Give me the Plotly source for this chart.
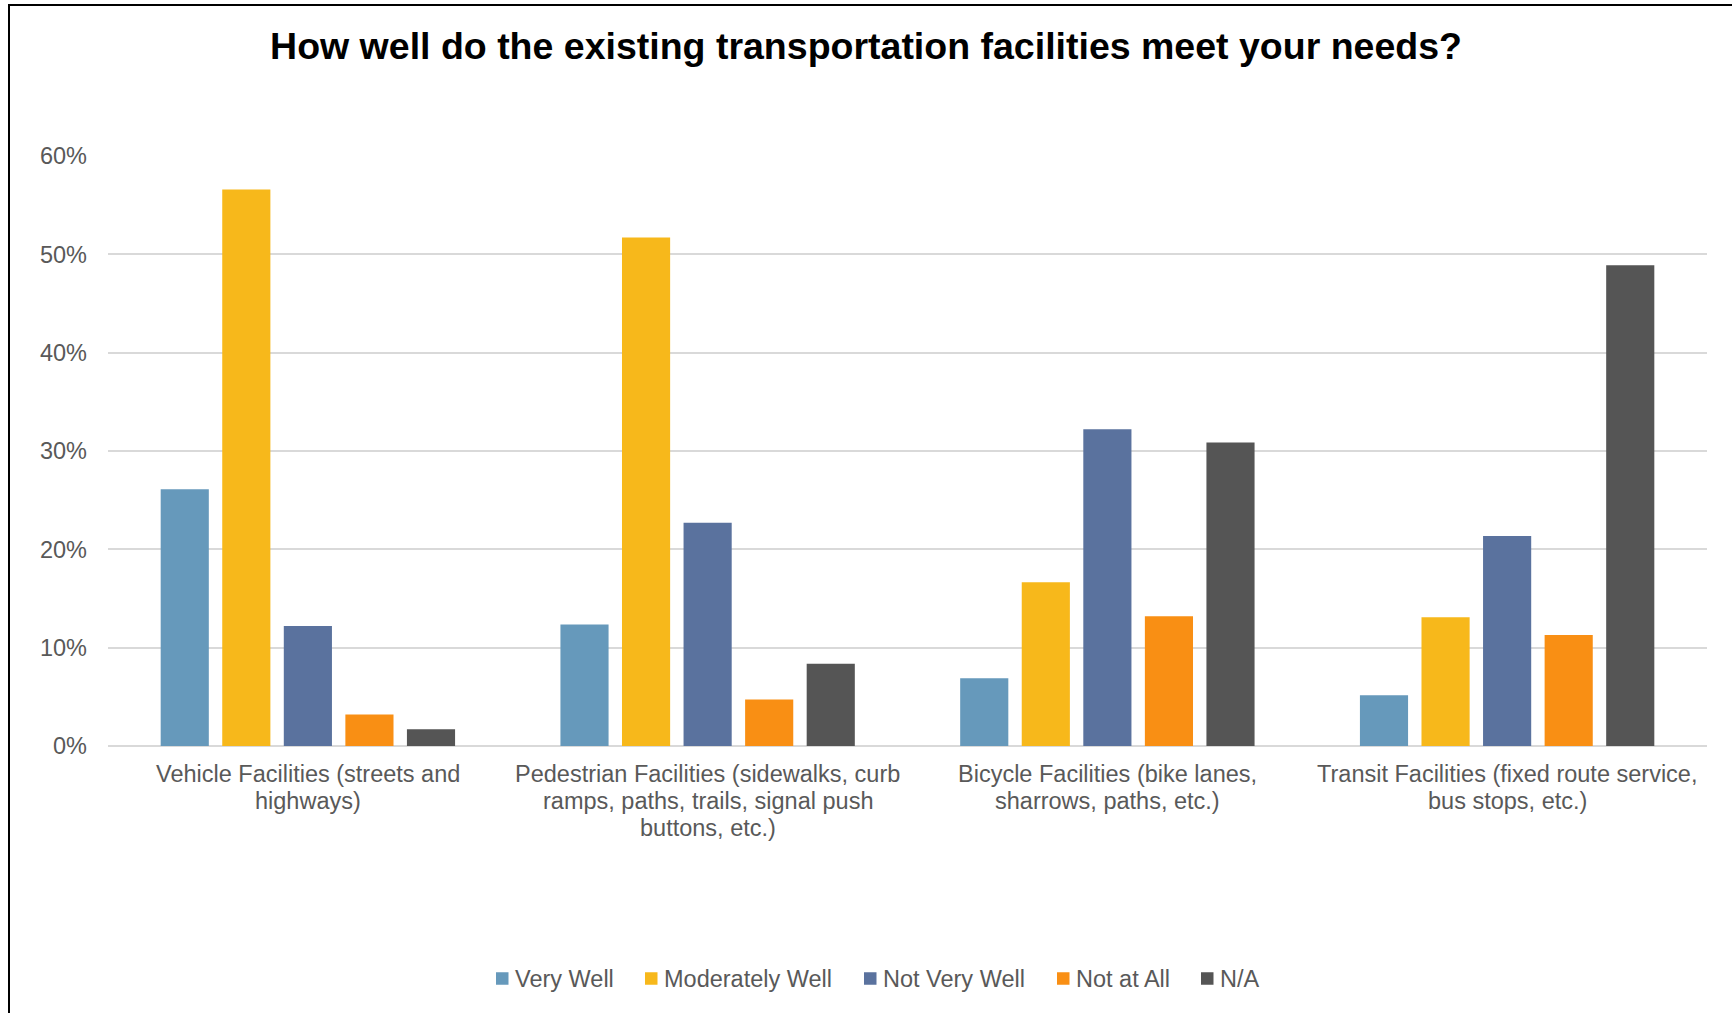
import plotly.graph_objects as go

# Survey categories (x axis), their wrapped label lines, and response shares per rating
categories = [
    "Vehicle Facilities",
    "Pedestrian Facilities",
    "Bicycle Facilities",
    "Transit Facilities",
]
category_labels = [
    ["Vehicle Facilities (streets and", "highways)"],
    ["Pedestrian Facilities (sidewalks, curb", "ramps, paths, trails, signal push", "buttons, etc.)"],
    ["Bicycle Facilities (bike lanes,", "sharrows, paths, etc.)"],
    ["Transit Facilities (fixed route service,", "bus stops, etc.)"],
]
series_names = ["Very Well", "Moderately Well", "Not Very Well", "Not at All", "N/A"]
very_well = [0.261, 0.1235, 0.069, 0.0515]
moderately_well = [0.566, 0.517, 0.1665, 0.131]
not_very_well = [0.122, 0.227, 0.322, 0.2135]
not_at_all = [0.032, 0.0474, 0.132, 0.113]
not_applicable = [0.017, 0.0837, 0.3086, 0.489]
y_ticks = [0, 0.1, 0.2, 0.3, 0.4, 0.5, 0.6]

series_values = [very_well, moderately_well, not_very_well, not_at_all, not_applicable]
colors = ["#6699BB", "#F7B81B", "#5A729E", "#F98F14", "#555555"]

W, H = 1732, 1013
L, R, T, B = 108, 25, 156, 267
FONT = "Liberation Sans, Arial, sans-serif"
GREY = "#595959"
FS = 23.5

fig = go.Figure()
for name, vals, col in zip(series_names, series_values, colors):
    fig.add_trace(go.Bar(
        x=categories, y=vals, name=name,
        marker=dict(color=col, line=dict(width=0)),
        hoverinfo="y+name", showlegend=False,
    ))

# Helpers: pixel position -> paper coordinates of the plot area
pw, ph = W - L - R, H - T - B
def px_x(v):
    return (v - L) / pw
def px_y(v):
    return (H - B - v) / ph

# Outer chart frame
fig.add_shape(type="rect", xref="paper", yref="paper",
              x0=px_x(9), x1=px_x(W + 20), y0=px_y(H + 20), y1=px_y(5),
              line=dict(color="black", width=2), fillcolor="rgba(0,0,0,0)",
              layer="above")

# Wrapped category labels under each group
line_step = 27
for cat, lines in zip(categories, category_labels):
    for i, line in enumerate(lines):
        fig.add_annotation(
            x=cat, xref="x", y=px_y(774 + i * line_step), yref="paper",
            text=line, showarrow=False, xanchor="center", yanchor="middle",
            font=dict(family=FONT, size=FS, color=GREY),
        )

# Legend row: square swatch followed by the series name
legend_left = [496, 645, 864, 1057, 1201]
legend_y = 978.5
sw = 12.5
for name, col, x0 in zip(series_names, colors, legend_left):
    fig.add_shape(type="rect", xref="paper", yref="paper",
                  x0=px_x(x0), x1=px_x(x0 + sw),
                  y0=px_y(legend_y + sw / 2), y1=px_y(legend_y - sw / 2),
                  line=dict(width=0), fillcolor=col)
    fig.add_annotation(
        x=px_x(x0 + sw + 4.5), xref="paper", y=px_y(legend_y), yref="paper",
        text=name, showarrow=False, xanchor="left", yanchor="middle",
        font=dict(family=FONT, size=FS, color=GREY),
    )

fig.update_layout(
    width=W, height=H,
    margin=dict(l=L, r=R, t=T, b=B, pad=0),
    paper_bgcolor="white", plot_bgcolor="white",
    barmode="group", bargap=0.23, bargroupgap=0.218,
    font=dict(family=FONT, size=FS, color=GREY),
    title=dict(
        text="How well do the existing transportation facilities meet your needs?",
        font=dict(family=FONT, size=37.5, color="black", weight="bold"),
        x=0.5, xref="container", xanchor="center",
        y=1 - 46 / H, yref="container", yanchor="middle",
    ),
    xaxis=dict(
        showgrid=False, showline=False, zeroline=False, ticks="",
        showticklabels=False,
    ),
    yaxis=dict(
        range=[0, 0.6], tickvals=y_ticks, tickformat=".0%",
        showgrid=True, gridcolor="#D9D9D9", gridwidth=2,
        zeroline=True, zerolinecolor="#D9D9D9", zerolinewidth=2,
        showline=False, ticks="",
        tickfont=dict(family=FONT, size=FS, color=GREY),
        ticklabelstandoff=20,
    ),
    showlegend=False,
)

fig.write_html("out.html")
